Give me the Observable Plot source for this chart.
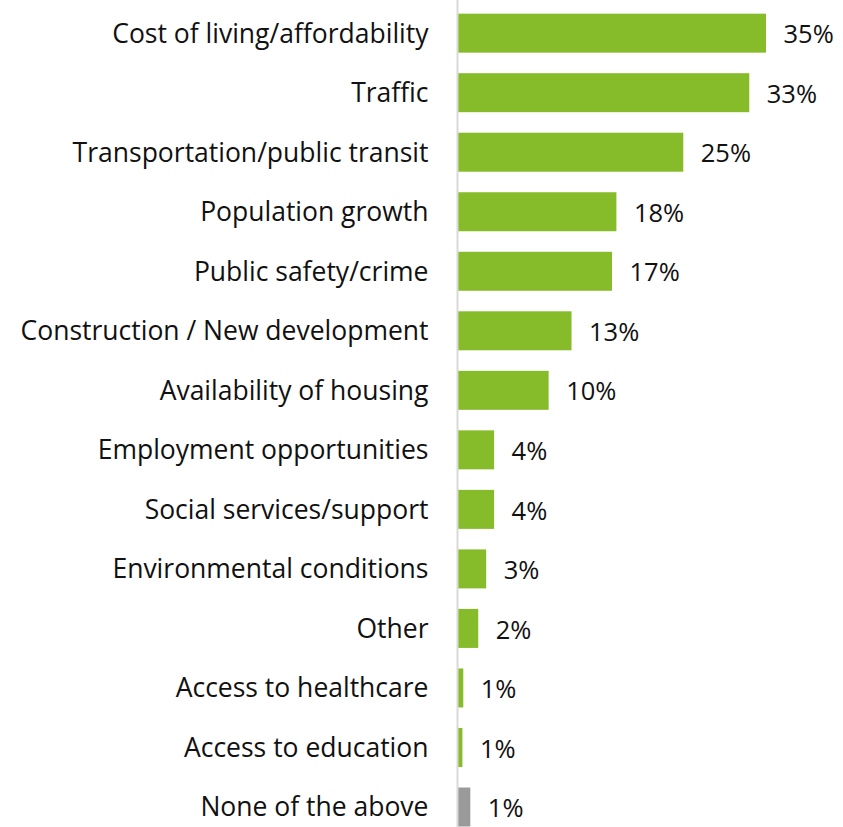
<!DOCTYPE html>
<html>
<head>
<meta charset="utf-8">
<script src="https://cdn.jsdelivr.net/npm/d3@7"></script>
<script src="https://cdn.jsdelivr.net/npm/@observablehq/plot@0.6"></script>
<style>
  html, body { margin: 0; padding: 0; background: #fff; }
  #chart svg { display: block; }
</style>
</head>
<body>
<div id="chart"></div>
<script>
const categories = [
  "Cost of living/affordability",
  "Traffic",
  "Transportation/public transit",
  "Population growth",
  "Public safety/crime",
  "Construction / New development",
  "Availability of housing",
  "Employment opportunities",
  "Social services/support",
  "Environmental conditions",
  "Other",
  "Access to healthcare",
  "Access to education",
  "None of the above"
];
const values = [35.0, 33.1, 25.6, 18.0, 17.5, 12.9, 10.3, 4.1, 4.1, 3.2, 2.3, 0.6, 0.5, 1.4];
const valueLabels = ["35%", "33%", "25%", "18%", "17%", "13%", "10%", "4%", "4%", "3%", "2%", "1%", "1%", "1%"];
const groups = ["main", "main", "main", "main", "main", "main", "main", "main", "main", "main", "main", "main", "main", "none"];

const rows = categories.map((c, i) => ({cat: c, value: values[i], label: valueLabels[i], group: groups[i]}));

const chart = Plot.plot({
  width: 843,
  height: 827,
  marginLeft: 458,
  marginRight: 33,
  marginTop: 0,
  marginBottom: 0,
  style: {fontFamily: "'Open Sans', 'Noto Sans', sans-serif", color: "#111", background: "#fff"},
  x: {domain: [0, 40], axis: null},
  y: {domain: categories, axis: null, paddingInner: 0.345, paddingOuter: 0.119, align: 0.965, round: false},
  color: {domain: ["main", "none"], range: ["#86bc29", "#9a9a9a"]},
  marks: [
    Plot.barX(rows, {x: "value", y: "cat", fill: "group"}),
    Plot.ruleX([0], {stroke: "#d9d9d9", strokeWidth: 2, dx: -1}),
    Plot.text(rows, {x: "value", y: "cat", text: "label", textAnchor: "start", dx: 17, dy: 1.5, fontSize: 25.5, fill: "#111"}),
    Plot.text(rows, {y: "cat", text: "cat", frameAnchor: "left", textAnchor: "end", dx: -30, dy: 0.5, fontSize: 26.5, fill: "#111"})
  ]
});
document.getElementById("chart").appendChild(chart);
</script>
</body>
</html>
